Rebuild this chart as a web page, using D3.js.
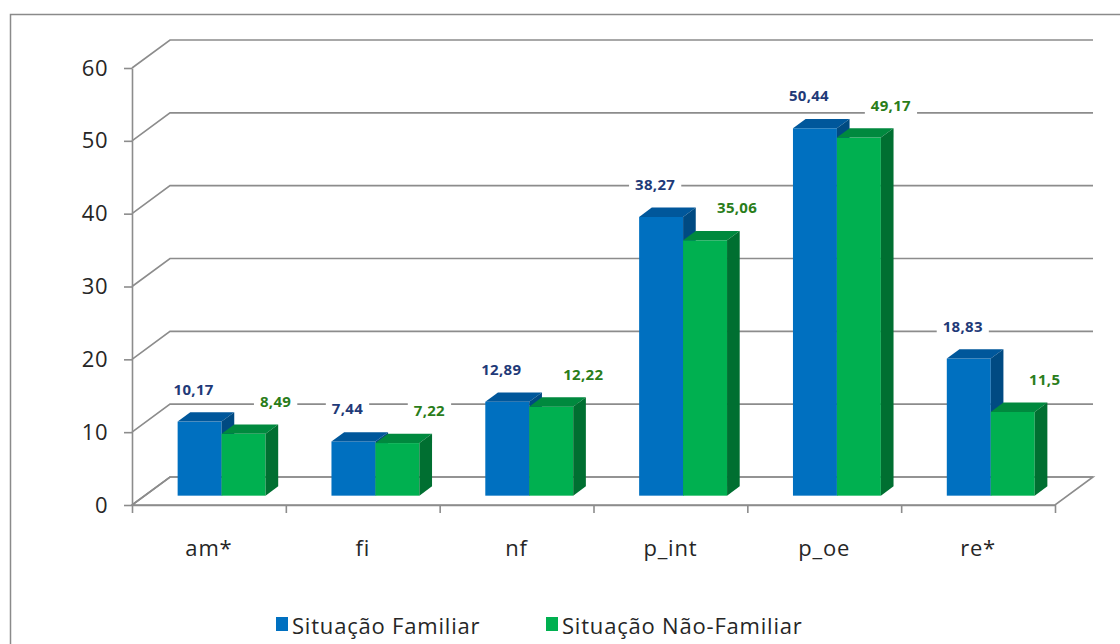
<!DOCTYPE html>
<html><head><meta charset="utf-8">
<script src="https://cdn.jsdelivr.net/npm/d3@7"></script>
<style>
body{margin:0;background:#fff;}
svg{display:block;font-family:"Open Sans",sans-serif;font-variant-ligatures:none;}
</style></head>
<body>
<svg id="chart" width="1120" height="644"></svg>
<script>
const categories = ["am*", "fi", "nf", "p_int", "p_oe", "re*"];
const familiar = [10.17, 7.44, 12.89, 38.27, 50.44, 18.83];
const naoFamiliar = [8.49, 7.22, 12.22, 35.06, 49.17, 11.5];
const seriesNames = ["Situação Familiar", "Situação Não-Familiar"];
const yTicks = [0, 10, 20, 30, 40, 50, 60];

const svg = d3.select("#chart");
const W = 1120, H = 644;
const FONT = "'Open Sans', sans-serif";

// layout
const pLeft = 132, pRight = 1055, pBottom = 505, pTop = 68;
const depth = {x: 38, y: -28};
const gridColor = "#8c8c8c";

const colors = [
  {front: "#0070C0", top: "#00579B", side: "#004A82", label: "#1F3A78"},
  {front: "#00B050", top: "#00893E", side: "#006F31", label: "#2A7D1A"}
];

// outer frame
svg.append("rect").attr("x", 10.5).attr("y", 14.5).attr("width", W).attr("height", H)
  .attr("fill", "none").attr("stroke", "#8a8a8a").attr("stroke-width", 1.5);

const y = d3.scaleLinear().domain([0, 60]).range([pBottom, pTop]);
const x = d3.scaleBand().domain(categories).range([pLeft, pRight]).paddingInner(0).paddingOuter(0);
const xs = d3.scaleBand().domain([0, 1]).range([0, x.bandwidth()]).paddingInner(0).paddingOuter(0.75);
const xEdges = d3.scaleLinear().domain([0, categories.length]).range([pLeft, pRight]);

const g = svg.append("g");

// floor
g.append("path")
  .attr("d", `M${pLeft},${pBottom} L${pRight},${pBottom} L${pRight + depth.x},${pBottom + depth.y} L${pLeft + depth.x},${pBottom + depth.y} Z`)
  .attr("fill", "none").attr("stroke", gridColor).attr("stroke-width", 1.6);

// gridlines (left wall diagonal + back wall)
yTicks.forEach(t => {
  const yy = y(t);
  g.append("path")
    .attr("d", `M${pLeft},${yy} L${pLeft + depth.x},${yy + depth.y} L${pRight + depth.x},${yy + depth.y}`)
    .attr("fill", "none").attr("stroke", gridColor).attr("stroke-width", 1.6);
});

// y axis
const yAxis = g.append("g").attr("transform", `translate(${pLeft},0)`)
  .call(d3.axisLeft(y).tickValues(yTicks).tickSize(8).tickSizeOuter(0).tickPadding(16));
yAxis.select(".domain").attr("stroke", gridColor).attr("stroke-width", 1.6);
yAxis.selectAll(".tick line").attr("stroke", gridColor).attr("stroke-width", 1.6);
yAxis.selectAll(".tick text").attr("font-size", 22).attr("fill", "#262626")
  .attr("font-family", FONT).attr("letter-spacing", 0.5);

// x axis (ticks on category boundaries)
const xAxis = g.append("g").attr("transform", `translate(0,${pBottom})`)
  .call(d3.axisBottom(xEdges).tickValues(d3.range(categories.length + 1)).tickSize(8).tickSizeOuter(0).tickFormat(""));
xAxis.select(".domain").attr("stroke", gridColor).attr("stroke-width", 1.6);
xAxis.selectAll(".tick line").attr("stroke", gridColor).attr("stroke-width", 1.6);

// category labels
g.selectAll("text.cat").data(categories).enter().append("text")
  .attr("class", "cat")
  .attr("x", d => x(d) + x.bandwidth() / 2)
  .attr("y", 556)
  .attr("text-anchor", "middle")
  .attr("font-size", 22).attr("letter-spacing", 0.8).attr("fill", "#262626")
  .text(d => d);

// bars (3D boxes)
const fx = depth.x / 3, fy = depth.y / 3;   // front face offset
const bx = depth.x / 3, by = depth.y / 3;   // box depth
const series = [familiar, naoFamiliar];
const barsG = g.append("g");
const labelsG = g.append("g");

categories.forEach((c, i) => {
  series.forEach((vals, s) => {
    const v = vals[i];
    const x0 = x(c) + xs(s) + fx;
    const w = xs.bandwidth();
    const y0 = y(0) + fy;
    const y1 = y(v) + fy;
    const col = colors[s];
    barsG.append("rect").attr("x", x0).attr("y", y1).attr("width", w).attr("height", y0 - y1)
      .attr("fill", col.front);
    barsG.append("path")
      .attr("d", `M${x0},${y1} L${x0 + bx},${y1 + by} L${x0 + w + bx},${y1 + by} L${x0 + w},${y1} Z`)
      .attr("fill", col.top);
    barsG.append("path")
      .attr("d", `M${x0 + w},${y1} L${x0 + w + bx},${y1 + by} L${x0 + w + bx},${y0 + by} L${x0 + w},${y0} Z`)
      .attr("fill", col.side);
  });
});

// data labels
categories.forEach((c, i) => {
  series.forEach((vals, s) => {
    const v = vals[i];
    const w = xs.bandwidth();
    const cx = x(c) + xs(s) + fx + w / 2 + (s === 0 ? -6 : 32);
    const cy = y(v) + fy - 33;
    const txt = String(v).replace(".", ",");
    const t = labelsG.append("text")
      .attr("x", cx).attr("y", cy)
      .attr("text-anchor", "middle").attr("dominant-baseline", "central")
      .attr("font-size", 15).attr("font-weight", "bold").attr("letter-spacing", 0.3)
      .attr("font-family", FONT)
      .attr("fill", colors[s].label)
      .text(txt);
    const bb = t.node().getBBox();
    labelsG.insert("rect", () => t.node())
      .attr("x", bb.x - 6).attr("y", bb.y).attr("width", bb.width + 12).attr("height", bb.height)
      .attr("fill", "#fff");
  });
});

// legend
const legend = svg.append("g");
const legendX = [276, 546];
seriesNames.forEach((n, s) => {
  legend.append("rect").attr("x", legendX[s]).attr("y", 617).attr("width", 12).attr("height", 14)
    .attr("fill", colors[s].front);
  legend.append("text").attr("x", legendX[s] + 16).attr("y", 625)
    .attr("dominant-baseline", "central")
    .attr("font-size", 22).attr("letter-spacing", 0.8).attr("fill", "#262626").text(n);
});
</script>
</body></html>
